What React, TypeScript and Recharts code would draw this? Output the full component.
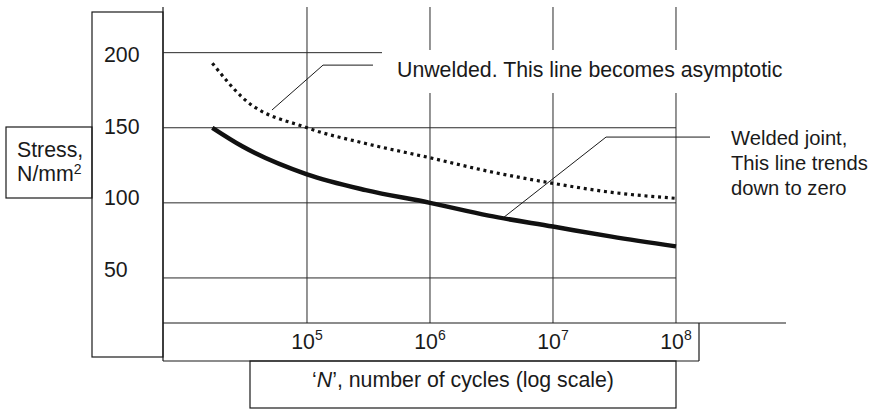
import { LineChart, Line, XAxis, YAxis, ReferenceLine } from "recharts";

// number of cycles N (log scale) and stress in N/mm2
const cycles = [17000, 30000, 100000, 300000, 1000000, 3000000, 10000000, 30000000, 100000000];
const weldedStress = [150, 137.5, 119, 108.5, 100, 91.5, 84.2, 77.5, 71];
const unweldedStress = [193, 170, 150, 139.5, 130, 121, 113, 107, 103];

const cycleTicks = [1e5, 1e6, 1e7, 1e8];
const stressTicks = [200, 150, 100, 50];
const stressGrid = [200, 150, 100, 50];

const data = cycles.map((n, i) => ({
  n,
  welded: weldedStress[i],
  unwelded: unweldedStress[i],
}));

const FONT = "'Liberation Sans', Arial, Helvetica, sans-serif";
const INK = "#1a1a1a";
const GRID = "#2a2a2a";
const FS = 21.3;

const X_MIN = 6751;
const X_MAX = 7.84e8;

const XTick = ({ x, y, payload }: any) => {
  const exp = Math.round(Math.log10(payload.value));
  return (
    <text x={x} y={y + 18} textAnchor="middle" fontSize={FS} fill={INK} fontFamily={FONT}>
      10
      <tspan dy={-9} fontSize={14}>
        {exp}
      </tspan>
    </text>
  );
};

const YTick = ({ y, payload }: any) => (
  <text x={104} y={y + 7.5} textAnchor="start" fontSize={FS} fill={INK} fontFamily={FONT}>
    {payload.value}
  </text>
);

export default function App() {
  const layer = { position: "absolute" as const, left: 0, top: 0 };
  return (
    <div style={{ position: "absolute", left: 0, top: 0, width: 873, height: 409, background: "#fff" }}>
      {/* boxes round the axes */}
      <svg width={873} height={409} style={layer}>
        <g fill="none" stroke={INK} strokeWidth={1.2}>
          <rect x={92} y={12} width={71} height={345} />
          <rect x={6} y={127} width={86} height={71} />
          <line x1={163} y1={7} x2={163} y2={361} />
          <line x1={163} y1={361} x2={699} y2={361} />
          <line x1={699} y1={323} x2={699} y2={361} />
          <rect x={250} y={361} width={426} height={47} />
        </g>
      </svg>

      <div style={layer}>
        <LineChart width={873} height={409} data={data} margin={{ top: 7, right: 87, bottom: 56, left: 92 }}>
          <XAxis
            dataKey="n"
            type="number"
            scale="log"
            domain={[X_MIN, X_MAX]}
            allowDataOverflow
            ticks={cycleTicks}
            tickLine={false}
            axisLine={{ stroke: INK, strokeWidth: 1.2 }}
            tick={<XTick />}
            height={30}
            interval={0}
          />
          <YAxis
            yAxisId="lab"
            type="number"
            domain={[12.2, 233.4]}
            allowDataOverflow
            ticks={stressTicks}
            tickLine={false}
            axisLine={false}
            tick={<YTick />}
            width={71}
            interval={0}
          />
          <YAxis yAxisId="data" type="number" domain={[20, 230.4]} allowDataOverflow hide />

          {stressGrid.map((v) => (
            <ReferenceLine
              key={"h" + v}
              yAxisId="data"
              segment={[
                { x: X_MIN, y: v },
                { x: 1e8, y: v },
              ]}
              stroke={GRID}
              strokeWidth={1}
              ifOverflow="visible"
            />
          ))}
          {cycleTicks.map((t) => (
            <ReferenceLine key={"v" + t} yAxisId="data" x={t} stroke={GRID} strokeWidth={1} ifOverflow="visible" />
          ))}

          {/* leader lines */}
          <ReferenceLine
            yAxisId="data"
            segment={[
              { x: 51900, y: 161.8 },
              { x: 135000, y: 191.7 },
            ]}
            stroke={INK}
            strokeWidth={1}
            ifOverflow="visible"
          />
          <ReferenceLine
            yAxisId="data"
            segment={[
              { x: 135000, y: 191.7 },
              { x: 344000, y: 191.7 },
            ]}
            stroke={INK}
            strokeWidth={1}
            ifOverflow="visible"
          />
          <ReferenceLine
            yAxisId="data"
            segment={[
              { x: 4.0e6, y: 90.5 },
              { x: 2.7e7, y: 143.8 },
            ]}
            stroke={INK}
            strokeWidth={1}
            ifOverflow="visible"
          />
          <ReferenceLine
            yAxisId="data"
            segment={[
              { x: 2.7e7, y: 143.8 },
              { x: 1.89e8, y: 143.8 },
            ]}
            stroke={INK}
            strokeWidth={1}
            ifOverflow="visible"
          />

          <Line
            yAxisId="data"
            type="monotone"
            dataKey="unwelded"
            stroke="#111"
            strokeWidth={3.2}
            strokeDasharray="3 3.8"
            dot={false}
            activeDot={false}
            isAnimationActive={false}
          />
          <Line
            yAxisId="data"
            type="monotone"
            dataKey="welded"
            stroke="#111"
            strokeWidth={4.5}
            dot={false}
            activeDot={false}
            isAnimationActive={false}
          />
        </LineChart>
      </div>

      {/* annotations */}
      <svg width={873} height={409} style={layer}>
        <g fontFamily={FONT} fontSize={FS} fill={INK}>
          <rect x={382} y={50} width={404} height={43} fill="#fff" />
          <text x={397} y={77}>Unwelded. This line becomes asymptotic</text>
          <g fontSize={20.2}>
            <text x={731} y={145}>Welded joint,</text>
            <text x={731} y={170}>This line trends</text>
            <text x={731} y={195}>down to zero</text>
          </g>
          <text x={17} y={157}>Stress,</text>
          <text x={17} y={181}>
            N/mm
            <tspan dy={-7} fontSize={14}>
              2
            </tspan>
          </text>
          <text x={463} y={387} textAnchor="middle">
            ‘<tspan fontStyle="italic">N</tspan>’, number of cycles (log scale)
          </text>
        </g>
      </svg>
    </div>
  );
}
